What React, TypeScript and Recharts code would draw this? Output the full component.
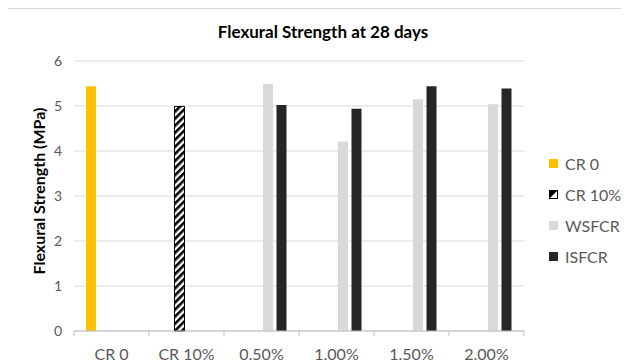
import { BarChart, Bar, XAxis, YAxis, CartesianGrid, Label } from "recharts";

const categories = ["CR 0", "CR 10%", "0.50%", "1.00%", "1.50%", "2.00%"];
const cr0 = [5.44, null, null, null, null, null];
const cr10 = [null, 4.99, null, null, null, null];
const wsfcr = [null, null, 5.49, 4.21, 5.15, 5.04];
const isfcr = [null, null, 5.02, 4.94, 5.44, 5.39];
const yTicks = [0, 1, 2, 3, 4, 5, 6];

const data = categories.map((name, i) => ({
  name,
  cr0: cr0[i],
  cr10: cr10[i],
  wsfcr: wsfcr[i],
  isfcr: isfcr[i],
}));

const FONT = "Lato, 'Liberation Sans', sans-serif";
const TEXT = "#595959";
const PLOT_W = 450;

const legendItems = [
  { name: "CR 0", color: "#FFC000" },
  { name: "CR 10%", color: "hatch" },
  { name: "WSFCR", color: "#D9D9D9" },
  { name: "ISFCR", color: "#262626" },
];

function XTick(props: any) {
  const { x, y, payload, index } = props;
  const half = PLOT_W / categories.length / 2;
  return (
    <g>
      <line x1={x - half} y1={y - 8} x2={x - half} y2={y - 3} stroke="#BFBFBF" />
      {index === categories.length - 1 && (
        <line x1={x + half} y1={y - 8} x2={x + half} y2={y - 3} stroke="#BFBFBF" />
      )}
      <text x={x} y={y + 21} textAnchor="middle" fill={TEXT} fontSize={16} fontFamily={FONT}>
        {payload.value}
      </text>
    </g>
  );
}

function YTitle(props: any) {
  const { viewBox } = props;
  const cx = 31.5;
  const cy = viewBox.y + viewBox.height / 2 - 5;
  return (
    <text
      x={cx}
      y={cy}
      transform={`rotate(-90, ${cx}, ${cy})`}
      textAnchor="middle"
      dominantBaseline="central"
      fontSize={16}
      fontWeight="bold"
      fill="#000"
      fontFamily={FONT}
    >
      Flexural Strength (MPa)
    </text>
  );
}

function Legend() {
  return (
    <div style={{ position: "absolute", left: 542, top: 139, fontFamily: FONT, fontSize: 16, color: TEXT }}>
      {legendItems.map((item) => (
        <div key={item.name} style={{ display: "flex", alignItems: "center", height: 31 }}>
          {item.color === "hatch" ? (
            <svg width={9} height={9} style={{ marginRight: 7 }}>
              <rect x={0.5} y={0.5} width={8} height={8} fill="#fff" stroke="#000" />
              <polygon points="0,0 9,0 0,9" fill="#000" />
            </svg>
          ) : (
            <div style={{ width: 9, height: 9, background: item.color, marginRight: 7 }} />
          )}
          <span>{item.name}</span>
        </div>
      ))}
    </div>
  );
}

export default function App() {
  return (
    <div
      style={{
        position: "relative",
        marginLeft: -2,
        width: 640,
        height: 370,
        border: "1px solid #D9D9D9",
        background: "#fff",
      }}
    >
      <svg width={0} height={0} style={{ position: "absolute" }}>
        <defs>
          <pattern id="hatch" patternUnits="userSpaceOnUse" width={5} height={5} patternTransform="rotate(45)">
            <rect x={0} y={0} width={5} height={5} fill="#fff" />
            <rect x={0} y={0} width={2.6} height={5} fill="#000" />
          </pattern>
        </defs>
      </svg>
      <div
        style={{
          position: "absolute",
          left: 0,
          width: 632,
          top: 12,
          textAlign: "center",
          fontFamily: FONT,
          fontWeight: "bold",
          fontSize: 17,
          color: "#000",
        }}
      >
        Flexural Strength at 28 days
      </div>
      <BarChart
        width={622}
        height={360}
        data={data}
        margin={{ top: 52, right: 105, left: 0, bottom: 0 }}
        barSize={10}
        barGap={3.5}
      >
        <CartesianGrid vertical={false} stroke="#D9D9D9" />
        <XAxis
          dataKey="name"
          height={38}
          axisLine={{ stroke: "#BFBFBF" }}
          tickLine={false}
          tick={<XTick />}
          interval={0}
        />
        <YAxis
          width={67}
          domain={[0, 6]}
          ticks={yTicks}
          axisLine={false}
          tickLine={false}
          tickSize={0}
          tickMargin={12}
          tick={{ fill: TEXT, fontSize: 14, fontFamily: FONT }}
        >
          <Label content={<YTitle />} />
        </YAxis>
        <Bar dataKey="cr0" fill="#FFC000" isAnimationActive={false} />
        <Bar dataKey="cr10" fill="url(#hatch)" stroke="#000" strokeWidth={1} isAnimationActive={false} />
        <Bar dataKey="wsfcr" fill="#D9D9D9" isAnimationActive={false} />
        <Bar dataKey="isfcr" fill="#262626" isAnimationActive={false} />
      </BarChart>
      <Legend />
    </div>
  );
}
